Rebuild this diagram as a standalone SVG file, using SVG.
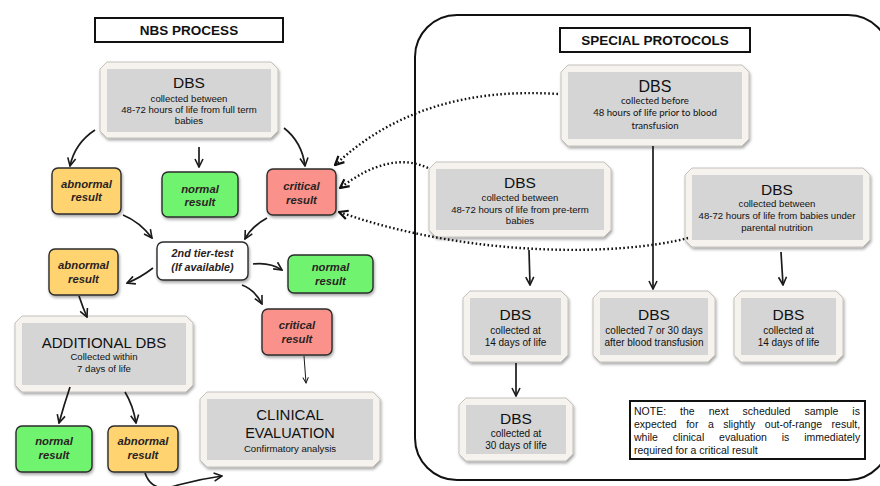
<svg xmlns="http://www.w3.org/2000/svg" width="880" height="486" viewBox="0 0 880 486">
<style>
.t{font-family:"Liberation Sans",Arial,sans-serif;fill:#111;text-anchor:middle}
.big{font-size:15.5px}
.sm{font-size:9.6px}
.md{font-size:10px}
.lato{font-family:Lato,"Liberation Sans",sans-serif;font-size:9.6px;fill:#111;text-anchor:middle}
.res{font-family:"Liberation Sans",Arial,sans-serif;font-size:11.3px;font-style:italic;font-weight:bold;fill:#2a2222;text-anchor:middle}
.ttl{font-family:"Liberation Sans",Arial,sans-serif;font-size:13.5px;font-weight:bold;fill:#111;text-anchor:middle}
.frame{fill:#f6f3ef;stroke:#b9b4ae;stroke-width:0.8;filter:url(#sh)}
.inner{fill:#d5d5d5}
.abn{fill:#ffd470;stroke:#2b2b2b;stroke-width:1.4;filter:url(#sh)}
.nor{fill:#6ff46f;stroke:#2b2b2b;stroke-width:1.4;filter:url(#sh)}
.cri{fill:#fa928b;stroke:#2b2b2b;stroke-width:1.4;filter:url(#sh)}
.wht{fill:#fff;stroke:#2b2b2b;stroke-width:1.4;filter:url(#sh)}
.tbox{fill:#fff;stroke:#111;stroke-width:2}
.arr{fill:none;stroke:#1a1a1a;stroke-width:1.7;marker-end:url(#ah)}
.thin{fill:none;stroke:#1a1a1a;stroke-width:1;marker-end:url(#ahs)}
.dot{fill:none;stroke:#111;stroke-width:2.4;stroke-dasharray:1.6 2.4;marker-end:url(#ahd)}
.note{font-family:"Liberation Sans",Arial,sans-serif;font-size:10.5px;fill:#111}
</style>
<defs>
<filter id="sh" x="-10%" y="-10%" width="125%" height="130%">
<feDropShadow dx="1" dy="2" stdDeviation="1.4" flood-color="#000" flood-opacity="0.35"/>
</filter>
<marker id="ah" viewBox="0 0 10 10" refX="9" refY="5" markerWidth="10" markerHeight="10" markerUnits="userSpaceOnUse" orient="auto">
<path d="M1,1 L9,5 L1,9" fill="none" stroke="#1a1a1a" stroke-width="1.6"/>
</marker>
<marker id="ahs" viewBox="0 0 10 10" refX="9" refY="5" markerWidth="7" markerHeight="7" markerUnits="userSpaceOnUse" orient="auto">
<path d="M1,1 L9,5 L1,9" fill="none" stroke="#1a1a1a" stroke-width="1.4"/>
</marker>
<marker id="ahd" viewBox="0 0 10 10" refX="9" refY="5" markerWidth="11" markerHeight="11" markerUnits="userSpaceOnUse" orient="auto">
<path d="M1,1 L9,5 L1,9" fill="none" stroke="#111" stroke-width="2"/>
</marker>
</defs>
<rect width="880" height="486" fill="#fff"/>

<g id="special-frame">
<rect x="415" y="15" width="475" height="465" rx="42" fill="none" stroke="#111" stroke-width="2"/>
</g>

<g id="title-nbs">
<rect class="tbox" x="95" y="18" width="188" height="24"/>
<text class="ttl" x="189" y="35">NBS PROCESS</text>
</g>
<g id="title-special">
<rect class="tbox" x="560" y="28" width="190" height="24"/>
<text class="ttl" x="655" y="45">SPECIAL PROTOCOLS</text>
</g>

<g id="dbs-nbs">
<path class="frame" d="M107,62 H271 L278,69 V131 L271,138 H107 L100,131 V69 Z"/>
<rect class="inner" x="107" y="69" width="164" height="63"/>
<text class="t big" x="189" y="88">DBS</text>
<text class="t sm" x="189" y="102">collected between</text>
<text class="t sm" x="189" y="113">48-72 hours of life from full term</text>
<text class="t sm" x="189" y="124">babies</text>
</g>

<g id="abn1"><rect class="abn" x="52" y="168" width="69" height="46" rx="6"/>
<text class="res" x="86.5" y="188">abnormal</text><text class="res" x="86.5" y="201">result</text></g>
<g id="norm1"><rect class="nor" x="162" y="172" width="76" height="45" rx="6"/>
<text class="res" x="200" y="193">normal</text><text class="res" x="200" y="206">result</text></g>
<g id="crit1"><rect class="cri" x="267" y="169" width="69" height="46" rx="6"/>
<text class="res" x="301.5" y="190">critical</text><text class="res" x="301.5" y="204">result</text></g>

<g id="tier2"><rect class="wht" x="157" y="242" width="91" height="38" rx="6"/>
<text class="res" x="202.5" y="257" style="font-size:10.8px">2nd tier-test</text>
<text class="res" x="202.5" y="271" style="font-size:10.8px">(If available)</text></g>

<g id="abn2"><rect class="abn" x="49" y="249" width="69" height="46" rx="6"/>
<text class="res" x="83.5" y="269">abnormal</text><text class="res" x="83.5" y="283">result</text></g>
<g id="norm2"><rect class="nor" x="288" y="255" width="85" height="38" rx="6"/>
<text class="res" x="330.5" y="271">normal</text><text class="res" x="330.5" y="285">result</text></g>
<g id="crit2"><rect class="cri" x="262" y="309" width="70" height="46" rx="6"/>
<text class="res" x="297" y="329">critical</text><text class="res" x="297" y="343">result</text></g>

<g id="add-dbs">
<path class="frame" d="M22,316 H186 L193,323 V385 L186,392 H22 L15,385 V323 Z"/>
<rect class="inner" x="22" y="323" width="164" height="62"/>
<text class="t" x="104" y="348" style="font-size:15px">ADDITIONAL DBS</text>
<text class="t sm" x="104" y="360">Collected within</text>
<text class="t sm" x="104" y="372">7 days of life</text>
</g>

<g id="clinical">
<path class="frame" d="M207,392 H373 L380,399 V460 L373,467 H207 L200,460 V399 Z"/>
<rect class="inner" x="207" y="399" width="166" height="61"/>
<text class="t" x="290" y="420" style="font-size:15px">CLINICAL</text>
<text class="t" x="290" y="438" style="font-size:14.5px">EVALUATION</text>
<text class="t sm" x="290" y="452">Confirmatory analysis</text>
</g>

<g id="norm3"><rect class="nor" x="16" y="426" width="76" height="46" rx="6"/>
<text class="res" x="54" y="445">normal</text><text class="res" x="54" y="459">result</text></g>
<g id="abn3"><rect class="abn" x="108" y="426" width="70" height="46" rx="6"/>
<text class="res" x="143" y="445">abnormal</text><text class="res" x="143" y="459">result</text></g>

<g id="dbs-transfusion">
<path class="frame" d="M568,65 H742 L749,72 V139 L742,146 H568 L561,139 V72 Z"/>
<rect class="inner" x="568" y="72" width="174" height="67"/>
<text class="t big" x="655" y="92" style="font-size:16px">DBS</text>
<text class="lato" x="655" y="104">collected before</text>
<text class="lato" x="655" y="116">48 hours of life prior to blood</text>
<text class="lato" x="655" y="129">transfusion</text>
</g>

<g id="dbs-preterm">
<path class="frame" d="M436,162 H604 L611,169 V230 L604,237 H436 L429,230 V169 Z"/>
<rect class="inner" x="436" y="169" width="168" height="61"/>
<text class="t big" x="520" y="188">DBS</text>
<text class="t sm" x="520" y="201">collected between</text>
<text class="t sm" x="520" y="213">48-72 hours of life from pre-term</text>
<text class="t sm" x="520" y="224">babies</text>
</g>

<g id="dbs-parental">
<path class="frame" d="M692,168 H863 L870,175 V240 L863,247 H692 L685,240 V175 Z"/>
<rect class="inner" x="692" y="175" width="171" height="65"/>
<text class="t big" x="777" y="195">DBS</text>
<text class="t sm" x="777" y="207">collected between</text>
<text class="t sm" x="777" y="219">48-72 hours of life from babies under</text>
<text class="t sm" x="777" y="231">parental nutrition</text>
</g>

<g id="dbs-14a">
<path class="frame" d="M470,291 H561 L568,298 V355 L561,362 H470 L463,355 V298 Z"/>
<rect class="inner" x="470" y="298" width="91" height="57"/>
<text class="t big" x="515.5" y="320">DBS</text>
<text class="t md" x="515.5" y="334">collected at</text>
<text class="t md" x="515.5" y="346">14 days of life</text>
</g>

<g id="dbs-7-30">
<path class="frame" d="M600,291 H708 L715,298 V355 L708,362 H600 L593,355 V298 Z"/>
<rect class="inner" x="600" y="298" width="108" height="57"/>
<text class="t big" x="654" y="320">DBS</text>
<text class="t md" x="654" y="334">collected 7 or 30 days</text>
<text class="t md" x="654" y="346">after blood transfusion</text>
</g>

<g id="dbs-14b">
<path class="frame" d="M741,291 H836 L843,298 V355 L836,362 H741 L734,355 V298 Z"/>
<rect class="inner" x="741" y="298" width="95" height="57"/>
<text class="t big" x="788.5" y="320">DBS</text>
<text class="t md" x="788.5" y="334">collected at</text>
<text class="t md" x="788.5" y="346">14 days of life</text>
</g>

<g id="dbs-30">
<path class="frame" d="M466,398 H566 L573,405 V454 L566,461 H466 L459,454 V405 Z"/>
<rect class="inner" x="466" y="405" width="100" height="49"/>
<text class="t big" x="516" y="424">DBS</text>
<text class="t md" x="516" y="437">collected at</text>
<text class="t md" x="516" y="449">30 days of life</text>
</g>

<g id="note">
<rect x="630" y="401" width="235" height="58" fill="#fff" stroke="#111" stroke-width="2"/>
<text class="note" x="634" y="415" word-spacing="11.1">NOTE: the next scheduled sample is</text>
<text class="note" x="634" y="428" word-spacing="6.6">expected for a slightly out-of-range result,</text>
<text class="note" x="634" y="441" word-spacing="11.9">while clinical evaluation is immediately</text>
<text class="note" x="634" y="454">required for a critical result</text>
</g>

<g id="connectors">
<path class="arr" d="M95,130 Q75,143 70,166"/>
<path class="arr" d="M199,147 L199,167"/>
<path class="arr" d="M284,128 Q302,142 305,166"/>
<path class="arr" d="M123,215 Q140,222 152,238"/>
<path class="arr" d="M267,218 Q252,226 245,239"/>
<path class="arr" d="M153,268 Q140,278 127,283"/>
<path class="arr" d="M253,264 Q270,262 282,270"/>
<path class="arr" d="M242,285 Q255,290 262,304"/>
<path class="arr" d="M79,296 Q83,308 87,317"/>
<path class="thin" d="M304,356 L306,383"/>
<path class="arr" d="M70,387 Q64,405 59,423"/>
<path class="arr" d="M125,392 Q133,405 136,423"/>
<path class="arr" d="M145,473 Q152,494 178,485 Q200,479 222,476"/>
<path class="arr" d="M653,146 L653,289"/>
<path class="arr" d="M529,250 L530,285"/>
<path class="arr" d="M781,252 L783,285"/>
<path class="arr" d="M516,363 L516,396"/>
<path class="dot" d="M558,94 Q420,85 335,165"/>
<path class="dot" d="M428,168 Q390,150 340,188"/>
<path class="dot" d="M688,238 C620,256 470,258 339,212"/>
</g>
</svg>
